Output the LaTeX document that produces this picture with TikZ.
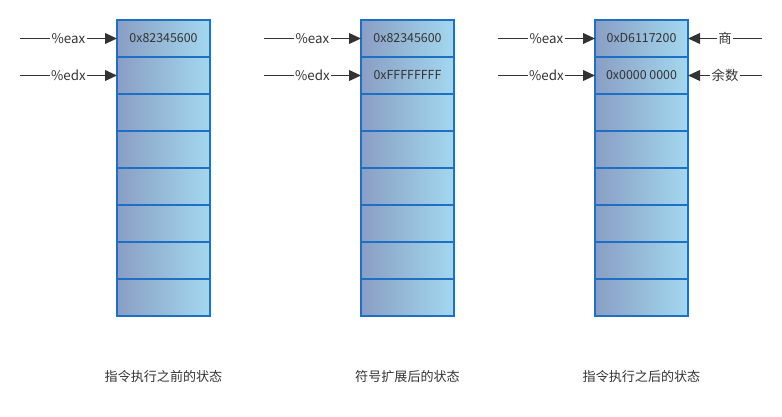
\documentclass[tikz,border=0pt]{standalone}
\usepackage{fontspec}
\setmainfont{Noto Sans CJK SC}
\usepackage{xcolor}
\usetikzlibrary{positioning,arrows.meta}
\definecolor{cellleft}{HTML}{8A9EC3}
\definecolor{cellright}{HTML}{A3D8EF}
\definecolor{cellborder}{HTML}{1E6FC6}
\definecolor{inkgray}{HTML}{333333}
\tikzstyle{cell}=[rectangle, draw=cellborder, line width=1.1pt, left color=cellleft, right color=cellright,
        minimum width=69.75pt, minimum height=27.75pt, inner sep=0pt, outer sep=0pt,
        text=inkgray, font=\fontsize{9.3}{10}\selectfont]
\tikzstyle{tag}=[fill=white, inner sep=1pt, text=inkgray, font=\fontsize{10}{11}\selectfont]
\tikzstyle{caption}=[text=inkgray, font=\fontsize{9.8}{11}\selectfont]
\tikzstyle{myarrow}=[-{Triangle[length=9pt, width=8pt]}, line width=1.3pt, draw=inkgray]

\begin{document}
\begin{tikzpicture}[x=0.75pt, y=-0.75pt]
    \useasboundingbox (0,0) rectangle (782,417);
    % before the instruction
    \node (a1) [cell] at (163.5,38.5) {0x82345600};
    \node (a2) [cell, below=0pt of a1] {};
    \foreach \i [count=\j from 3] in {2,...,7}
        \node (a\j) [cell, below=0pt of a\i] {};
    % after sign extension
    \node (b1) [cell] at (407.5,38.5) {0x82345600};
    \node (b2) [cell, below=0pt of b1] {0xFFFFFFFF};
    \foreach \i [count=\j from 3] in {2,...,7}
        \node (b\j) [cell, below=0pt of b\i] {};
    % after the instruction
    \node (c1) [cell] at (641.5,38.5) {0xD6117200};
    \node (c2) [cell, below=0pt of c1] {0x0000 0000};
    \foreach \i [count=\j from 3] in {2,...,7}
        \node (c\j) [cell, below=0pt of c\i] {};

    \coordinate (eaxA) at (20,0 |- a1);
    \coordinate (edxA) at (20,0 |- a2);
    \coordinate (eaxB) at (264,0 |- b1);
    \coordinate (edxB) at (264,0 |- b2);
    \coordinate (eaxC) at (498,0 |- c1);
    \coordinate (edxC) at (498,0 |- c2);
    \coordinate (quot) at (762,0 |- c1);
    \coordinate (rem) at (762,0 |- c2);

    \draw[myarrow] (eaxA) -- node[tag]{\%eax} (a1.west);
    \draw[myarrow] (edxA) -- node[tag]{\%edx} (a2.west);
    \draw[myarrow] (eaxB) -- node[tag]{\%eax} (b1.west);
    \draw[myarrow] (edxB) -- node[tag]{\%edx} (b2.west);
    \draw[myarrow] (eaxC) -- node[tag]{\%eax} (c1.west);
    \draw[myarrow] (edxC) -- node[tag]{\%edx} (c2.west);
    \draw[myarrow] (quot) -- node[tag]{商} (c1.east);
    \draw[myarrow] (rem) -- node[tag]{余数} (c2.east);

    \node (capA) [caption] at (a8.south |- 0,377) {指令执行之前的状态};
    \node (capB) [caption] at (b8.south |- 0,377) {符号扩展后的状态};
    \node (capC) [caption] at (c8.south |- 0,377) {指令执行之后的状态};
\end{tikzpicture}
\end{document}
